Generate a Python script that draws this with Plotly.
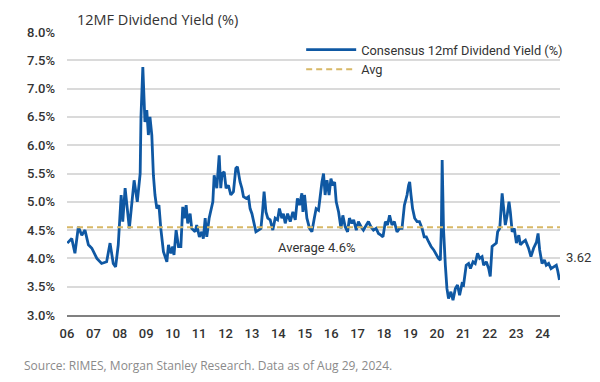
import plotly.graph_objects as go

# Decimal-year dates and Consensus 12mf dividend yield (%)
dates = [
    2006.01, 2006.18, 2006.30, 2006.43, 2006.56, 2006.68, 2006.81, 2006.94, 2007.13, 2007.31,
    2007.50, 2007.63, 2007.75, 2007.84, 2007.94, 2008.05, 2008.11, 2008.20, 2008.36, 2008.45,
    2008.54, 2008.66, 2008.77, 2008.80, 2008.83, 2008.87, 2008.95, 2009.02, 2009.08, 2009.14,
    2009.21, 2009.27, 2009.33, 2009.40, 2009.48, 2009.55, 2009.65, 2009.78, 2009.84, 2009.93,
    2010.00, 2010.05, 2010.13, 2010.22, 2010.31, 2010.38, 2010.44, 2010.51, 2010.57, 2010.66,
    2010.72, 2010.85, 2010.91, 2011.01, 2011.10, 2011.16, 2011.23, 2011.29, 2011.38, 2011.45,
    2011.52, 2011.57, 2011.67, 2011.76, 2011.82, 2011.87, 2011.95, 2012.02, 2012.11, 2012.20,
    2012.30, 2012.39, 2012.45, 2012.55, 2012.62, 2012.68, 2012.78, 2012.87, 2012.93, 2013.00,
    2013.06, 2013.15, 2013.25, 2013.34, 2013.40, 2013.46, 2013.53, 2013.60, 2013.69, 2013.79,
    2013.88, 2013.97, 2014.04, 2014.13, 2014.19, 2014.26, 2014.35, 2014.45, 2014.55, 2014.64,
    2014.72, 2014.80, 2014.89, 2014.93, 2014.99, 2015.08, 2015.18, 2015.27, 2015.36, 2015.43,
    2015.52, 2015.58, 2015.65, 2015.71, 2015.77, 2015.84, 2015.92, 2015.99, 2016.06, 2016.13,
    2016.19, 2016.28, 2016.37, 2016.44, 2016.53, 2016.62, 2016.69, 2016.78, 2016.85, 2016.95,
    2017.03, 2017.13, 2017.22, 2017.33, 2017.41, 2017.50, 2017.60, 2017.70, 2017.79, 2017.88,
    2017.96, 2018.05, 2018.13, 2018.21, 2018.30, 2018.39, 2018.49, 2018.59, 2018.68, 2018.77,
    2018.87, 2018.93, 2018.97, 2019.02, 2019.08, 2019.16, 2019.25, 2019.34, 2019.44, 2019.52,
    2019.60, 2019.69, 2019.78, 2019.88, 2019.98, 2020.06, 2020.13, 2020.17, 2020.20, 2020.25,
    2020.32, 2020.38, 2020.44, 2020.53, 2020.61, 2020.70, 2020.78, 2020.86, 2020.95, 2021.01,
    2021.11, 2021.20, 2021.27, 2021.37, 2021.45, 2021.54, 2021.62, 2021.71, 2021.77, 2021.87,
    2021.96, 2022.02, 2022.09, 2022.17, 2022.25, 2022.30, 2022.38, 2022.47, 2022.53, 2022.59,
    2022.66, 2022.73, 2022.78, 2022.85, 2022.93, 2023.01, 2023.10, 2023.16, 2023.26, 2023.35,
    2023.47, 2023.56, 2023.66, 2023.77, 2023.83, 2023.89, 2023.98, 2024.07, 2024.14, 2024.23,
    2024.32, 2024.42, 2024.52, 2024.57, 2024.64,
]
yield_pct = [
    4.27, 4.35, 4.09, 4.56, 4.41, 4.50, 4.24, 4.18, 4.00, 3.91,
    3.94, 4.27, 3.91, 3.85, 4.24, 5.12, 4.65, 5.24, 4.53, 4.94,
    5.38, 5.00, 5.50, 6.50, 7.06, 7.38, 6.41, 6.62, 6.18, 6.50,
    6.18, 5.47, 5.12, 4.88, 4.94, 4.53, 4.12, 3.94, 4.24, 4.09,
    4.21, 4.06, 4.50, 4.21, 4.21, 4.91, 4.71, 4.94, 4.62, 4.79,
    4.53, 4.47, 4.59, 4.38, 4.47, 4.35, 4.71, 4.38, 4.71, 4.85,
    5.00, 5.47, 5.24, 5.82, 5.24, 5.50, 5.53, 5.24, 5.29, 5.12,
    5.18, 5.59, 5.62, 5.35, 5.24, 5.09, 5.06, 5.09, 4.88, 4.79,
    4.65, 4.47, 4.50, 4.53, 4.82, 5.18, 4.82, 4.71, 4.68, 4.50,
    4.71, 4.68, 4.88, 4.71, 4.79, 4.62, 4.79, 4.65, 4.82, 4.68,
    5.06, 4.94, 5.15, 4.82, 5.12, 4.71, 4.53, 4.47, 4.71, 4.88,
    4.85, 5.12, 5.35, 5.50, 5.12, 5.38, 5.12, 5.41, 5.29, 5.35,
    5.00, 4.82, 4.53, 4.76, 4.56, 4.47, 4.71, 4.62, 4.68, 4.50,
    4.65, 4.56, 4.50, 4.59, 4.65, 4.56, 4.50, 4.53, 4.44, 4.41,
    4.38, 4.65, 4.59, 4.76, 4.59, 4.65, 4.47, 4.53, 4.53, 4.94,
    5.12, 5.29, 5.35, 5.12, 4.88, 4.71, 4.65, 4.65, 4.53, 4.38,
    4.38, 4.29, 4.21, 4.15, 4.06, 4.00, 3.97, 4.53, 5.74, 4.53,
    3.88, 3.47, 3.29, 3.41, 3.26, 3.47, 3.53, 3.35, 3.55, 3.53,
    3.88, 3.91, 3.82, 3.94, 3.91, 4.09, 4.00, 4.03, 3.88, 3.94,
    3.82, 3.68, 4.21, 4.24, 4.27, 4.47, 4.53, 5.15, 4.82, 4.59,
    4.76, 5.00, 4.82, 4.47, 4.53, 4.27, 4.41, 4.24, 4.29, 4.32,
    4.18, 4.03, 4.18, 4.29, 4.44, 4.15, 3.91, 3.97, 3.88, 3.91,
    3.82, 3.85, 3.88, 3.79, 3.62,
]
avg_value = 4.55
x_start, x_end = 2006.0, 2024.66

year_ticks = list(range(2006, 2025))
year_labels = ["06", "07", "08", "09", "10", "11", "12", "13", "14", "15",
               "16", "17", "18", "19", "20", "21", "22", "23", "24"]
y_ticks = [3.0, 3.5, 4.0, 4.5, 5.0, 5.5, 6.0, 6.5, 7.0, 7.5, 8.0]
y_labels = ["3.0%", "3.5%", "4.0%", "4.5%", "5.0%", "5.5%", "6.0%", "6.5%", "7.0%", "7.5%", "8.0%"]

BLUE = "#0F58A3"
GOLD = "#D8B866"
TXT = "#333333"

fig = go.Figure()
fig.add_trace(go.Scatter(
    x=dates, y=yield_pct, mode="lines",
    name="Consensus 12mf Dividend Yield (%)",
    line=dict(color=BLUE, width=2.8),
))
fig.add_trace(go.Scatter(
    x=[x_start, x_end], y=[avg_value, avg_value], mode="lines",
    name="Avg",
    line=dict(color=GOLD, width=2, dash="6px,4px"),
))

fig.add_annotation(
    x=2015.45, y=avg_value, xref="x", yref="y", text="Average 4.6%",
    showarrow=False, yshift=-20, font=dict(family="Roboto", size=13, color=TXT),
)
fig.add_annotation(
    x=dates[-1], y=yield_pct[-1], xref="x", yref="y", text=str(yield_pct[-1]),
    showarrow=False, xanchor="left", xshift=5, yshift=22,
    font=dict(family="Roboto", size=13, color=TXT),
)
fig.add_annotation(
    x=75, y=20, xref="paper", yref="paper", text="12MF Dividend Yield (%)",
    showarrow=False, xanchor="left", yanchor="middle",
    font=dict(family="Open Sans", size=14.5, color=TXT),
)
fig.add_annotation(
    x=22, y=365, xref="paper", yref="paper",
    text="Source: RIMES, Morgan Stanley Research. Data as of Aug 29, 2024.",
    showarrow=False, xanchor="left", yanchor="middle",
    font=dict(family="Open Sans", size=12, color="#8a8a8a"),
)

# convert the two pixel-placed annotations to paper coords
W, H = 600, 382
L, R, T, B = 67, 40, 32, 67
pw, ph = W - L - R, H - T - B
for ann in fig.layout.annotations:
    if ann.xref == "paper":
        ann.x = (ann.x - L) / pw
        ann.y = 1 - (ann.y - T) / ph

fig.update_layout(
    width=W, height=H,
    margin=dict(l=L, r=R, t=T, b=B),
    paper_bgcolor="white", plot_bgcolor="white",
    font=dict(family="Roboto", size=13, color=TXT),
    showlegend=True,
    legend=dict(
        x=0.475, y=0.99, xanchor="left", yanchor="top",
        bgcolor="rgba(0,0,0,0)", font=dict(family="Roboto", size=12.8, color=TXT),
        tracegroupgap=0, itemwidth=50,
    ),
    xaxis=dict(
        range=[x_start, x_end], tickvals=year_ticks, ticktext=year_labels,
        showgrid=False, zeroline=False, showline=True, linecolor="#808080", linewidth=2,
        ticks="", ticklabelstandoff=5,
        tickfont=dict(family="Roboto", size=13, color=TXT, weight=500),
    ),
    yaxis=dict(
        range=[3.0, 8.0], tickvals=y_ticks, ticktext=y_labels,
        showgrid=True, gridcolor="#DADADA", gridwidth=1.5, zeroline=False,
        ticks="", ticklabelstandoff=11,
        tickfont=dict(family="Roboto", size=13, color=TXT, weight=500),
    ),
)

fig.write_html(
    "out.html",
    config={"displayModeBar": False},
    post_script="document.body.style.margin='0';document.body.style.overflow='hidden';",
)
